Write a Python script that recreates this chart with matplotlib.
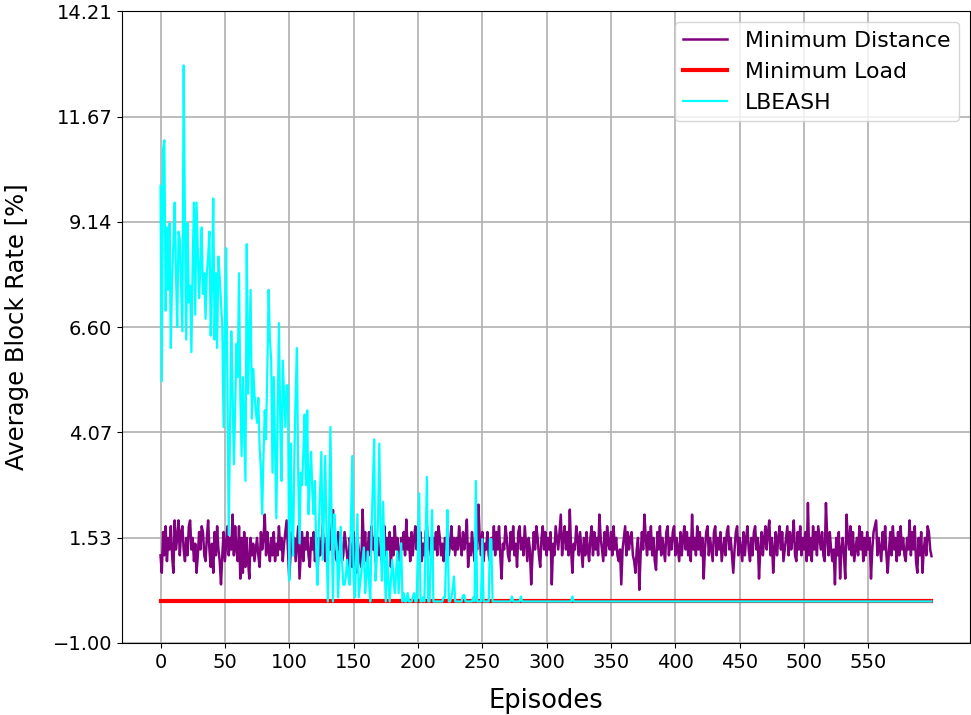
import numpy as np
import matplotlib
matplotlib.use("Agg")
import matplotlib.pyplot as plt

# ---------------- data ----------------
episodes = np.arange(600)

min_distance = [
    1.11, 0.69, 1.67, 1.11, 1.81, 0.97, 1.53, 1.25, 1.81, 1.11, 0.69, 1.95, 1.25, 1.53, 1.95, 1.11, 1.67, 1.81, 1.25, 0.97,
    1.53, 1.11, 1.81, 1.95, 1.25, 1.53, 0.97, 1.39, 0.69, 1.11, 1.67, 1.25, 1.81, 1.67, 1.11, 0.97, 1.53, 1.95, 1.25, 0.83,
    1.39, 0.69, 1.67, 1.11, 1.81, 1.25, 0.97, 0.41, 1.11, 1.67, 0.97, 1.39, 1.81, 1.11, 1.53, 1.25, 2.09, 1.11, 1.81, 1.25,
    0.97, 1.81, 0.55, 1.53, 0.69, 1.67, 0.83, 1.53, 0.97, 0.55, 1.53, 1.11, 1.39, 0.97, 1.25, 1.53, 1.11, 0.83, 1.67, 1.25,
    1.53, 2.09, 1.11, 1.67, 1.25, 0.97, 1.53, 1.11, 1.67, 0.97, 1.39, 1.11, 1.81, 1.25, 1.53, 0.97, 1.39, 1.67, 1.95, 1.25,
    0.55, 1.11, 1.67, 1.25, 1.53, 0.97, 1.39, 1.81, 0.55, 1.11, 1.67, 0.97, 1.53, 1.25, 1.67, 1.11, 0.83, 1.53, 1.25, 1.67,
    0.97, 1.39, 0.62, 1.53, 1.11, 1.39, 1.81, 1.25, 0.97, 1.53, 1.11, 1.67, 1.25, 1.81, 2.20, 1.25, 1.11, 0.97, 1.67, 1.25,
    1.53, 0.97, 1.11, 1.67, 1.39, 1.11, 0.69, 1.53, 1.25, 0.83, 1.67, 1.11, 0.69, 1.53, 1.25, 0.97, 0.83, 2.21, 1.25, 1.67,
    0.97, 1.25, 1.67, 1.11, 1.81, 1.25, 1.53, 0.97, 1.39, 1.53, 1.11, 1.25, 0.97, 1.53, 1.81, 1.11, 1.53, 1.25, 1.67, 0.83,
    1.53, 1.11, 1.81, 1.25, 1.53, 1.11, 0.97, 1.53, 1.25, 1.67, 1.11, 1.97, 1.25, 1.53, 0.97, 1.67, 1.11, 1.53, 1.81, 1.25,
    1.53, 1.11, 1.67, 0.97, 1.39, 1.11, 1.67, 1.81, 1.25, 1.53, 1.11, 0.97, 1.53, 1.25, 1.67, 1.11, 1.81, 1.53, 1.11, 1.39,
    0.97, 1.53, 1.25, 1.67, 1.11, 1.39, 1.81, 1.25, 1.53, 1.11, 1.53, 1.25, 1.81, 1.39, 1.11, 1.67, 1.25, 1.53, 1.97, 0.83,
    1.39, 1.11, 1.67, 1.25, 0.97, 1.53, 1.25, 2.33, 1.53, 1.11, 1.67, 0.97, 1.39, 1.25, 1.67, 1.11, 0.97, 1.53, 1.25, 1.81,
    1.11, 1.67, 1.25, 1.81, 1.11, 0.55, 1.39, 1.25, 1.81, 1.53, 1.11, 0.97, 1.67, 1.25, 1.81, 1.11, 1.39, 0.83, 1.67, 1.81,
    1.25, 1.53, 1.11, 1.81, 1.39, 0.97, 1.53, 1.25, 0.41, 1.11, 1.67, 1.25, 1.81, 1.53, 1.11, 0.83, 1.53, 1.81, 1.25, 1.67,
    1.11, 1.53, 1.25, 1.67, 0.41, 1.39, 1.11, 1.81, 1.53, 1.25, 1.67, 2.09, 1.11, 1.53, 1.81, 1.25, 1.67, 1.11, 2.21, 1.25,
    0.69, 1.39, 1.25, 1.81, 1.53, 1.11, 1.67, 1.25, 0.83, 1.53, 1.11, 1.67, 1.25, 0.97, 1.53, 1.81, 1.11, 1.67, 1.25, 1.53,
    1.11, 2.09, 1.53, 1.25, 0.97, 1.67, 1.11, 1.81, 1.39, 1.25, 1.67, 1.11, 1.81, 1.25, 1.53, 1.11, 0.97, 1.25, 0.41, 1.25,
    1.53, 1.81, 1.11, 1.67, 1.25, 1.53, 1.67, 1.11, 0.97, 0.69, 1.25, 1.53, 0.28, 1.11, 1.67, 1.25, 2.09, 1.53, 1.11, 1.67,
    1.25, 1.81, 1.11, 1.53, 0.97, 0.76, 1.67, 1.25, 1.81, 1.11, 1.53, 1.25, 0.97, 1.67, 1.81, 1.11, 1.53, 1.25, 1.67, 1.81,
    1.11, 1.53, 1.25, 0.97, 1.67, 1.11, 1.53, 1.81, 1.25, 1.67, 1.11, 1.53, 0.97, 2.09, 1.25, 1.53, 1.11, 1.81, 1.25, 1.67,
    1.11, 1.53, 0.55, 1.25, 1.67, 1.81, 1.11, 1.53, 1.25, 0.97, 1.67, 1.81, 1.11, 1.53, 1.25, 1.67, 0.97, 1.25, 1.53, 1.11,
    1.67, 1.81, 1.25, 1.53, 1.11, 0.69, 1.25, 1.67, 1.81, 1.11, 1.53, 1.25, 0.97, 1.67, 1.11, 1.53, 1.81, 1.25, 0.97, 1.53,
    1.11, 1.67, 1.81, 1.25, 1.53, 0.55, 1.25, 1.67, 1.11, 1.53, 1.81, 1.25, 1.67, 1.95, 1.11, 1.53, 0.69, 1.25, 1.67, 1.11,
    1.53, 1.81, 1.25, 1.67, 0.97, 1.25, 1.53, 1.81, 1.11, 1.67, 1.25, 1.53, 1.95, 1.11, 0.97, 1.67, 1.25, 1.81, 1.11, 1.53,
    1.25, 1.67, 0.97, 2.37, 1.11, 1.53, 0.97, 1.81, 1.25, 1.67, 1.11, 1.81, 1.53, 1.25, 1.67, 1.11, 0.97, 2.37, 1.53, 1.11,
    1.67, 1.25, 0.97, 1.25, 0.41, 1.53, 1.11, 1.67, 0.55, 1.25, 1.53, 1.11, 0.55, 2.09, 1.53, 1.25, 1.81, 1.11, 1.67, 0.97,
    1.25, 1.53, 1.11, 1.81, 1.25, 1.67, 0.97, 1.53, 1.11, 1.67, 1.25, 1.53, 0.55, 1.25, 1.67, 1.81, 1.95, 1.11, 1.53, 1.25,
    0.97, 1.67, 1.25, 1.81, 1.11, 0.69, 1.25, 1.67, 1.11, 1.81, 1.25, 1.53, 0.97, 1.67, 1.11, 1.81, 1.25, 1.53, 1.11, 0.97,
    1.53, 1.25, 1.95, 1.11, 1.67, 1.25, 1.81, 0.97, 0.69, 1.53, 1.11, 1.67, 0.69, 1.25, 1.53, 1.11, 1.81, 1.67, 1.25, 1.09,
]

min_load = [0.0] * 600

lbeash_head = [
    10.0, 5.3, 10.9, 11.1, 7.0, 9.0, 7.5, 9.1, 6.1, 7.8, 8.6, 9.6, 7.9, 6.6, 8.9, 8.7, 7.6, 6.5, 12.9, 9.1,
    6.3, 9.1, 7.2, 7.6, 6.0, 8.2, 9.6, 6.9, 9.6, 8.4, 7.3, 8.1, 9.0, 7.4, 7.9, 6.8, 7.9, 8.3, 8.9, 6.4,
    7.6, 9.7, 6.3, 7.9, 6.1, 8.3, 7.8, 7.2, 6.6, 4.2, 6.5, 8.5, 4.9, 1.6, 4.2, 6.5, 5.0, 3.3, 4.6, 6.2,
    5.4, 7.9, 5.0, 3.5, 5.4, 4.2, 2.9, 8.6, 5.0, 6.3, 7.5, 4.4, 5.6, 5.0, 4.6, 4.3, 4.9, 3.7, 3.2, 2.1,
    3.5, 4.6, 3.9, 5.6, 7.5, 6.3, 5.8, 3.1, 5.4, 3.7, 2.0, 4.5, 6.7, 4.4, 2.9, 5.8, 5.0, 4.2, 5.2, 5.2,
    0.5, 3.8, 2.0, 1.1, 3.5, 5.0, 6.1, 3.0, 1.4, 3.1, 2.8, 3.6, 4.5, 2.8, 4.6, 2.1, 3.0, 3.6, 2.6, 2.1,
    2.9, 1.2, 0.4, 1.8, 2.7, 3.6, 1.0, 2.2, 3.5, 1.5, 0.0, 2.0, 4.2, 1.8, 0.0, 2.1, 1.6, 1.3, 0.1, 1.0,
    1.8, 1.0, 0.4, 0.4, 0.6, 1.0, 0.6, 0.4, 1.9, 3.5, 0.6, 0.1, 1.1, 2.1, 0.1, 0.4, 0.7, 1.0, 1.3, 0.2,
    0.6, 1.2, 0.5, 0.0, 1.8, 2.8, 3.9, 0.5, 1.0, 2.0, 3.8, 1.6, 0.5, 2.4, 1.0, 0.0, 1.2, 0.5, 0.0, 0.5,
    1.0, 0.6, 0.2, 0.7, 1.2, 0.2, 0.8, 1.4, 0.0, 0.2, 0.0, 0.0, 0.2, 0.0, 0.0, 0.0, 0.1, 0.2, 0.0, 0.0,
    1.3, 2.6, 0.0, 0.0, 0.1, 0.0, 1.5, 3.0, 0.0, 0.0, 1.1, 2.2, 0.0, 0.0, 0.0, 0.0, 0.0, 0.0, 0.0, 0.0,
    0.1, 0.1, 1.1, 2.2, 0.0, 0.0, 0.1, 0.3, 0.6, 0.0, 0.0, 0.0, 0.0, 0.0, 0.0, 0.15, 0.15, 0.0, 0.0, 0.0,
    0.0, 0.0, 0.0, 0.1, 0.0, 2.9, 0.0, 0.0, 0.0, 0.0, 1.5, 0.0, 0.0, 0.0, 0.0, 0.0, 1.5, 1.5, 0.0, 0.0,
    0.0, 0.0, 0.0, 0.0, 0.0, 0.0, 0.0, 0.0, 0.0, 0.0, 0.0, 0.0, 0.0, 0.12, 0.0, 0.0, 0.0, 0.0, 0.0, 0.0,
    0.12, 0.0, 0.0, 0.0, 0.0, 0.0, 0.0, 0.0, 0.0, 0.0, 0.0, 0.0, 0.0, 0.0, 0.0, 0.0, 0.0, 0.0, 0.0, 0.0,
    0.0, 0.0, 0.0, 0.0, 0.0, 0.0, 0.0, 0.0, 0.0, 0.0, 0.0, 0.0, 0.0, 0.0, 0.0, 0.0, 0.0, 0.0, 0.0, 0.0,
    0.12, 0.0,
]
lbeash = lbeash_head + [0.0] * (600 - len(lbeash_head))

series_labels = ["Minimum Distance", "Minimum Load", "LBEASH"]
x_ticks = list(range(0, 551, 50))
y_ticks = [-1.00, 1.53, 4.07, 6.60, 9.14, 11.67, 14.21]

# ---------------- plot ----------------
fig = plt.figure(figsize=(9.71, 7.15), dpi=100)
ax = fig.add_axes([0.1256, 0.1007, 0.8734, 0.8839])

ax.plot(episodes, min_distance, color="purple", linewidth=1.8, label=series_labels[0])
ax.plot(episodes, min_load, color="red", linewidth=3.0, label=series_labels[1])
ax.plot(episodes, lbeash, color="cyan", linewidth=1.6, label=series_labels[2])

ax.set_ylim(y_ticks[0], y_ticks[-1])
ax.set_yticks(y_ticks)
ax.set_yticklabels([f"{v:.2f}".replace("-", "\u2212") for v in y_ticks])
ax.set_xticks(x_ticks)

ax.tick_params(axis="both", labelsize=14)
ax.set_xlabel("Episodes", fontsize=18.5, labelpad=12)
ax.set_ylabel("Average Block Rate [%]", fontsize=17.5, labelpad=17)
ax.grid(True, color="#b0b0b0", linewidth=1.2)
ax.set_axisbelow(True)

ax.legend(loc="upper right", fontsize=15.8, handlelength=2.0)

fig.savefig("out.png", dpi=100)
